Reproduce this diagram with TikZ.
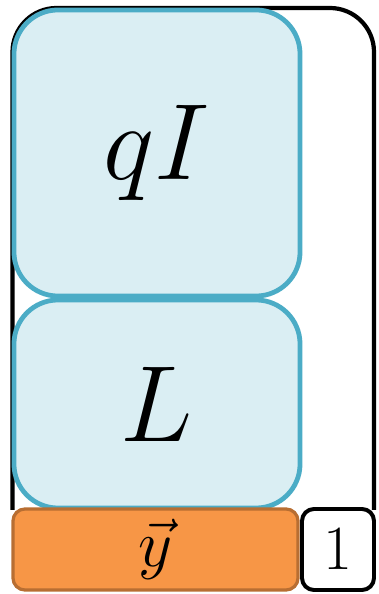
\documentclass[tikz,border=0pt]{standalone}
\usepackage{graphicx}
\usetikzlibrary{positioning}
\definecolor{cellfill}{HTML}{DAEEF3}
\definecolor{cellline}{HTML}{4BACC6}
\definecolor{vecfill}{HTML}{F79646}
\definecolor{vecline}{HTML}{B86E32}
\begin{document}
\begin{tikzpicture}[x=0.025cm, y=0.025cm,
    cell/.style={draw=cellline, fill=cellfill, line width=3.4pt, rounded corners=1.1cm,
        inner sep=0pt, outer sep=0pt, minimum width=7.15cm},
    small/.style={rounded corners=0.3cm, inner sep=0pt, outer sep=0pt,
        minimum height=2.025cm}]
    \useasboundingbox (0,0) rectangle (378,594);

    % Marco exterior
    \draw[line width=3pt, rounded corners=1.1cm] (12.5,84) -- (12.5,586) -- (374,586) -- (374,84);

    % Bloques principales
    \node[cell, minimum height=7.15cm] (qibox) at (157,441) {\scalebox{3.1}{\Huge$qI$}};
    \node[cell, minimum height=5.2cm] (lbox) at (157,190) {\scalebox{3.1}{\Huge$L$}};

    % Fila inferior
    \node[small, line width=2.3pt, draw=vecline, fill=vecfill, minimum width=7.125cm] (ybox) at (155.5,44.5)
        {\scalebox{1.9}{\Huge$\vec{y}$}};
    \node[small, line width=2.8pt, draw=black, fill=white, minimum width=1.8cm] (onebox) at (338,44.5)
        {\scalebox{1.8}{\Huge$1$}};
\end{tikzpicture}
\end{document}
